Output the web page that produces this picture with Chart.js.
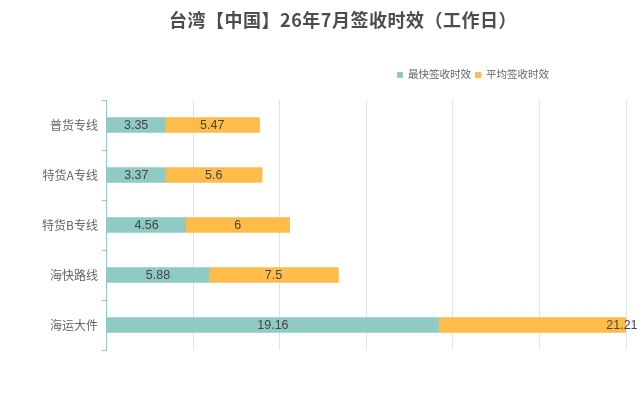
<!DOCTYPE html>
<html>
<head>
<meta charset="utf-8">
<script src="https://cdn.jsdelivr.net/npm/chart.js@4.4.0/dist/chart.umd.min.js"></script>
<style>
  html, body { margin: 0; padding: 0; background: #fff; overflow: hidden; }
  #box { width: 642px; height: 418px; }
</style>
</head>
<body>
<div id="box"><canvas id="myBarChart"></canvas></div>
<script>
const titleText = '台湾【中国】26年7月签收时效（工作日）';
const routes = ['普货专线', '特货A专线', '特货B专线', '海快路线', '海运大件'];
const fastest = [3.35, 3.37, 4.56, 5.88, 19.16];
const average = [5.47, 5.6, 6, 7.5, 21.21];
const seriesNames = ['最快签收时效', '平均签收时效'];
const seriesColors = ['#8fcac4', '#ffbc4a'];
const fontFamily = '"Noto Sans CJK SC", "Noto Sans", sans-serif';

// title + legend drawn by hand so they sit where the original has them
const headerPlugin = {
  id: 'header',
  afterDraw(chart) {
    const c = chart.ctx;
    c.save();
    c.fillStyle = '#4d4d4d';
    c.font = 'bold 18px ' + fontFamily;
    c.letterSpacing = '0.5px';
    c.textAlign = 'center';
    c.textBaseline = 'middle';
    c.fillText(titleText, 343, 20);
    c.letterSpacing = '0px';

    c.font = '10.5px ' + fontFamily;
    c.textAlign = 'left';
    let x = 397;
    chart.data.datasets.forEach(function (ds) {
      c.fillStyle = ds.backgroundColor;
      c.fillRect(x, 72, 6, 6);
      x += 11;
      c.fillStyle = '#666';
      c.fillText(ds.label, x, 74.5);
      x += c.measureText(ds.label).width + 4;
    });
    c.restore();
  }
};

// value labels in the middle of each segment
const valueLabels = {
  id: 'valueLabels',
  afterDatasetsDraw(chart) {
    const c = chart.ctx;
    c.save();
    c.font = '12.5px "Liberation Sans", Arial, sans-serif';
    c.fillStyle = '#444';
    c.textAlign = 'center';
    c.textBaseline = 'middle';
    chart.data.datasets.forEach(function (ds, i) {
      chart.getDatasetMeta(i).data.forEach(function (bar, j) {
        c.fillText(String(ds.data[j]), (bar.x + bar.base) / 2, bar.y + 0.5);
      });
    });
    c.restore();
  }
};

const ctx = document.getElementById('myBarChart').getContext('2d');
const myBarChart = new Chart(ctx, {
  type: 'bar',
  data: {
    labels: routes,
    datasets: [{
      label: seriesNames[0],
      data: fastest,
      backgroundColor: seriesColors[0],
      barThickness: 15
    }, {
      label: seriesNames[1],
      data: average,
      backgroundColor: seriesColors[1],
      barThickness: 15
    }]
  },
  plugins: [headerPlugin, valueLabels],
  options: {
    indexAxis: 'y',
    responsive: true,
    maintainAspectRatio: false,
    animation: false,
    layout: { padding: { top: 100, right: 16, bottom: 68, left: 38 } },
    plugins: {
      legend: { display: false },
      title: { display: false },
      tooltip: { enabled: false }
    },
    scales: {
      x: {
        stacked: true,
        min: 0,
        max: 30,
        ticks: { display: false, stepSize: 5 },
        grid: { color: '#e3e3e3', drawTicks: false },
        border: { display: false }
      },
      y: {
        stacked: true,
        ticks: { color: '#666', font: { size: 12, family: fontFamily }, padding: 4 },
        grid: { drawOnChartArea: false, tickLength: 5, tickColor: '#8fcac4' },
        border: { color: '#8fcac4' }
      }
    }
  }
});
</script>
</body>
</html>
